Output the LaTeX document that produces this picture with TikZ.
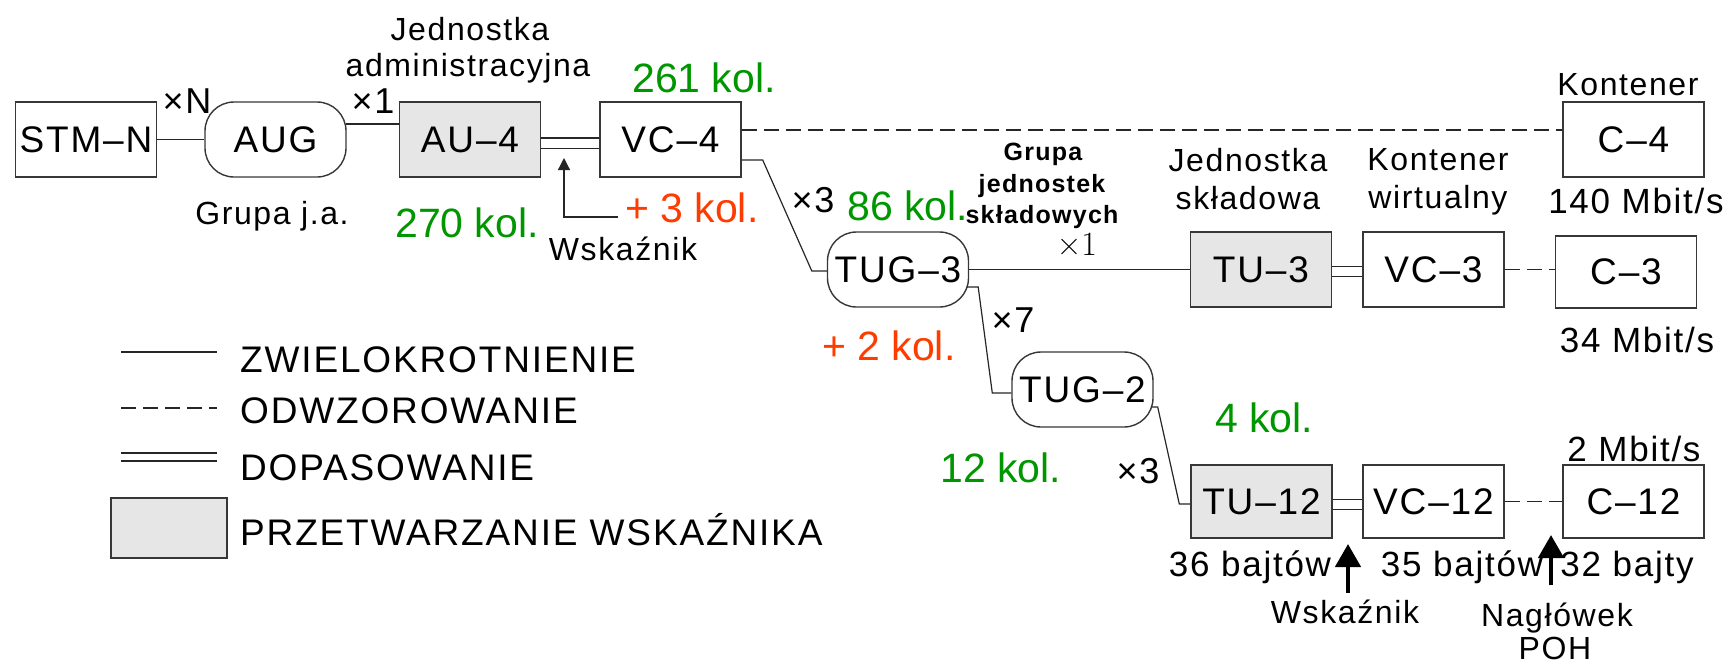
\documentclass[tikz,border=0pt]{standalone}
\usepackage{fontspec}
\setmainfont{Liberation Sans}[LetterSpace=5]
\newfontfamily\tightsans{Liberation Sans}
\newfontfamily\lmserif{Latin Modern Roman}
\usetikzlibrary{arrows.meta,calc}

\definecolor{colgreen}{RGB}{0,150,0}
\definecolor{colred}{RGB}{255,60,0}
\definecolor{ptrgray}{RGB}{230,230,230}
\definecolor{edgegray}{RGB}{55,55,55}

\newcommand{\fsz}[1]{\fontsize{#1}{#1}\selectfont}

\tikzset{
  unit/.style={draw=edgegray, line width=1.4pt, minimum width=141pt,
    minimum height=75pt, inner sep=0pt, font=\fsz{37}},
  ptrunit/.style={unit, fill=ptrgray},
  group/.style={unit, rounded corners=29pt},
  mux/.style={draw=black!85, line width=1.2pt},
  mapline/.style={mux, dash pattern=on 15pt off 7pt},
  adapt/.style={draw=black!85, line width=1.2pt, double=white, double distance=9pt},
  small/.style={font=\fsz{32}, inner sep=0pt, anchor=base},
  mult/.style={font=\fsz{36}, inner sep=0pt, anchor=base},
  rate/.style={font=\fsz{35}, inner sep=0pt, anchor=base},
  groupname/.style={font=\bfseries\fsz{25}, inner sep=0pt, anchor=base},
  colnum/.style={font=\tightsans\fsz{41}, inner sep=0pt, anchor=base west},
  greennum/.style={colnum, text=colgreen},
  rednum/.style={colnum, text=colred},
  legtext/.style={font=\fsz{37}, inner sep=0pt, anchor=base west},
  ptr/.style={draw=black!85, line width=1.2pt, -{Triangle[length=12pt,width=12pt]}},
  fatptr/.style={draw=black, line width=4.5pt, -{Triangle[length=23pt,width=25pt]}},
}

\begin{document}
\begin{tikzpicture}[x=1pt,y=-1pt]
\useasboundingbox (0,0) rectangle (1733,664);

% multiplexing structure
\node[unit]    (stm)  at (86,139.5)    {STM–N};
\node[group]   (aug)  at (275.5,139.5) {AUG};
\node[ptrunit] (au4)  at (470,139.5)   {AU–4};
\node[unit]    (vc4)  at (670.5,139.5) {VC–4};
\node[unit]    (c4)   at (1633.5,139.5){C–4};
\node[group]   (tug3) at (898,269.5)   {TUG–3};
\node[ptrunit] (tu3)  at (1261,269.5)  {TU–3};
\node[unit]    (vc3)  at (1433.5,269.5){VC–3};
\node[unit, minimum height=72pt] (c3) at (1626,272) {C–3};
\node[group]   (tug2) at (1082.5,389.5){TUG–2};
\node[ptrunit, minimum height=73pt] (tu12) at (1261.5,501.5) {TU–12};
\node[unit, minimum height=73pt]    (vc12) at (1433.5,501.5) {VC–12};
\node[unit, minimum height=73pt]    (c12)  at (1633.5,501.5) {C–12};

% connections
\draw[mux] (stm) -- (aug);
\draw[mux] ($(aug.east)+(-1,-15.5)$) -- ($(au4.west)+(0,-15.5)$);
\draw[adapt] ($(au4.east)+(0,3.5)$) -- ($(vc4.west)+(0,3.5)$);
\draw[mapline] ($(vc4.east)+(0,-9.5)$) -- ($(c4.west)+(0,-9.5)$);
\draw[mux] ($(vc4.east)+(0,20.5)$) -- ++(21,0)
  -- ($(tug3.west)+(-15,1.5)$) -- ($(tug3.west)+(0,1.5)$);
\draw[mux] (tug3) -- (tu3);
\draw[adapt] ($(tu3.east)+(0,2)$) -- ($(vc3.west)+(0,2)$);
\draw[mapline] (vc3.east) -- (vc3.east -| c3.west);
\draw[mux] ($(tug3.east)+(-2,17.5)$) -- ++(11,0)
  -- ($(tug2.west)+(-19,3.5)$) -- ($(tug2.west)+(0,3.5)$);
\draw[mux] ($(tug2.east)+(-2,17.5)$) -- ++(6,0)
  -- ($(tu12.west)+(-11,2.5)$) -- ($(tu12.west)+(0,2.5)$);
\draw[adapt] ($(tu12.east)+(0,3)$) -- ($(vc12.west)+(0,3)$);
\draw[mapline] (vc12) -- (c12);

% labels of the upper row
\node[small] (jadm1) at (470,40) {Jednostka};
\node[small] (jadm2) at (468,76) {administracyjna};
\node[small] (grja)  at (272,224) {Grupa j.a.};
\node[mult]  (xN)    at (187,113) {×N};
\node[mult]  (x1a)   at (373,113) {×1};
\node[greennum] (g261) at (632,92)  {261 kol.};
\node[greennum] (g270) at (395,237) {270 kol.};
\node[rednum]   (plus3) at (625,222) {+ 3 kol.};
\node[small] (wsk1) at (623,260) {Wskaźnik};
\coordinate (ptrtip) at (564,158);
\draw[ptr] ($(plus3.base west)+(-7,-5)$) -| (ptrtip);
\node[small] (kont) at (1628,95) {Kontener};
\node[rate]  (r140) at (1636,213) {140 Mbit/s};

% labels of the middle row
\node[mult] (x3a) at (813,212) {×3};
\node[greennum] (g86) at (847,220) {86 kol.};
\node[groupname] (gj1) at (1043,160) {Grupa};
\node[groupname] (gj2) at (1042,192) {jednostek};
\node[groupname] (gj3) at (1042,223) {składowych};
\node[font=\lmserif\fsz{34}, inner sep=0pt, anchor=base] (x1b) at (1077,255) {×1};
\node[small] (jsk1) at (1248,171) {Jednostka};
\node[small] (jsk2) at (1248,209) {składowa};
\node[small] (kw1) at (1438,170) {Kontener};
\node[small] (kw2) at (1438,208) {wirtualny};
\node[rate] (r34) at (1637,352) {34 Mbit/s};
\node[mult] (x7) at (1013,332) {×7};
\node[rednum] (plus2) at (822,360) {+ 2 kol.};

% labels of the lower row
\node[greennum] (g4)  at (1215,432) {4 kol.};
\node[greennum] (g12) at (940,482)  {12 kol.};
\node[mult] (x3b) at (1138,483) {×3};
\node[rate] (r2)  at (1634,461) {2 Mbit/s};
\node[rate] (b36) at (1250,576) {36 bajtów};
\node[rate] (b35) at (1462,576) {35 bajtów};
\node[rate] (b32) at (1627,576) {32 bajty};
\node[small] (wsk2) at (1345,623) {Wskaźnik};
\node[small] (nagl) at (1557,626) {Nagłówek};
\node[small] (poh)  at (1555,659) {POH};
\coordinate (tipA)  at (1348,544);
\coordinate (tailA) at (1348,593);
\coordinate (tipB)  at (1551,535);
\coordinate (tailB) at (1551,585);
\draw[fatptr] (tailA) -- (tipA);
\draw[fatptr] (tailB) -- (tipB);

% legend
\coordinate (la1) at (121,352); \coordinate (la2) at (217,352);
\coordinate (lb1) at (121,408); \coordinate (lb2) at (217,408);
\coordinate (lc1) at (121,457); \coordinate (lc2) at (217,457);
\draw[mux] (la1) -- (la2);
\draw[mapline] (lb1) -- (lb2);
\draw[adapt, double distance=6.8pt] (lc1) -- (lc2);
\node[draw=edgegray, fill=ptrgray, line width=1.4pt, minimum width=116pt,
  minimum height=60pt, inner sep=0pt] (legbox) at (169,528) {};
\node[legtext] (leg1) at (240,372) {ZWIELOKROTNIENIE};
\node[legtext] (leg2) at (240,423) {ODWZOROWANIE};
\node[legtext] (leg3) at (240,480) {DOPASOWANIE};
\node[legtext] (leg4) at (240,545) {PRZETWARZANIE WSKAŹNIKA};
\end{tikzpicture}
\end{document}
